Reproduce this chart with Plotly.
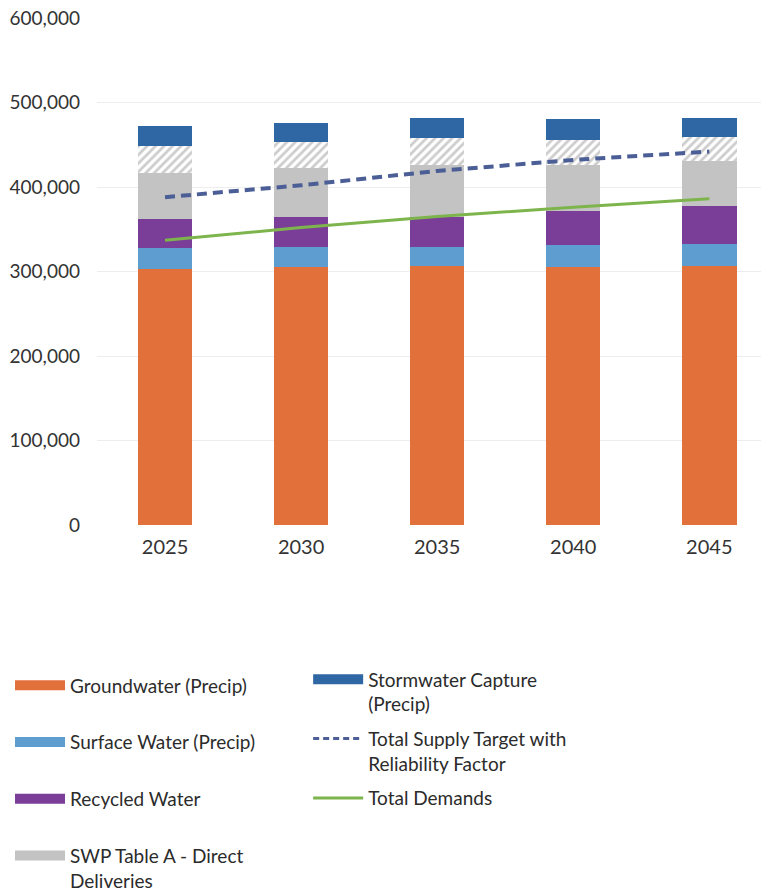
import plotly.graph_objects as go

# Planning years
years = ["2025", "2030", "2035", "2040", "2045"]

# Supply components (AFY), stacked bottom to top
groundwater = [303000, 305000, 307000, 305000, 307000]
surface_water = [25000, 24000, 22000, 26000, 26000]
recycled_water = [34000, 35000, 35000, 41000, 44000]
swp_direct = [54000, 58000, 62000, 54000, 54000]
swp_other = [32000, 31000, 32000, 30000, 28000]
stormwater = [24000, 23000, 24000, 24000, 23000]

# Targets and demands
supply_target = [388000, 402000, 419000, 432000, 442000]
total_demands = [337000, 352000, 365000, 376000, 386000]

y_ticks = [0, 100000, 200000, 300000, 400000, 500000, 600000]

C_ORANGE = "#E2703A"
C_LBLUE = "#5E9DD0"
C_PURPLE = "#7A3E98"
C_GRAY = "#C3C3C3"
C_HATCH = "#9A9A9A"
C_DBLUE = "#2F66A4"
C_DASH = "#4B5E96"
C_GREEN = "#7DB54C"

FONT = "Lato, 'Open Sans', sans-serif"

fig = go.Figure()

stack = [
    ("Groundwater (Precip)", groundwater, C_ORANGE, None),
    ("Surface Water (Precip)", surface_water, C_LBLUE, None),
    ("Recycled Water", recycled_water, C_PURPLE, None),
    ("SWP Table A - Direct<br>Deliveries", swp_direct, C_GRAY, None),
    ("Additional SWP Supply", swp_other, "white", "/"),
    ("Stormwater Capture<br>(Precip)", stormwater, C_DBLUE, None),
]

for name, vals, color, pattern in stack:
    marker = dict(color=color, line=dict(width=0))
    if pattern:
        marker["pattern"] = dict(shape=pattern, fgcolor=C_HATCH, bgcolor="white",
                                 size=6, solidity=0.45)
    fig.add_trace(go.Bar(x=years, y=vals, name=name, marker=marker,
                         showlegend=False))

fig.add_trace(go.Scatter(x=years, y=supply_target, mode="lines",
                         line=dict(color=C_DASH, width=4, dash="10px,6px"),
                         showlegend=False))
fig.add_trace(go.Scatter(x=years, y=total_demands, mode="lines",
                         line=dict(color=C_GREEN, width=3),
                         showlegend=False))

# Legend keys (wide swatches) in two columns
def key(name, color, legend, group, width=10, dash="solid"):
    fig.add_trace(go.Scatter(x=[None], y=[None], mode="lines", name=name,
                             line=dict(color=color, width=width, dash=dash),
                             legend=legend, legendgroup=group))

key("Groundwater (Precip)", C_ORANGE, "legend", "a")
key("Surface Water (Precip)", C_LBLUE, "legend", "b")
key("Recycled Water", C_PURPLE, "legend", "c")
key("SWP Table A - Direct<br>Deliveries", C_GRAY, "legend", "d")
key("Stormwater Capture<br>(Precip)", C_DBLUE, "legend2", "e")
key("Total Supply Target with<br>Reliability Factor", C_DASH, "legend2", "f",
    width=3, dash="6px,4px")
key("Total Demands", C_GREEN, "legend2", "g", width=3)

legend_common = dict(font=dict(family=FONT, size=19, color="#2B2B2B"),
                     bgcolor="rgba(0,0,0,0)", valign="top", itemwidth=50,
                     orientation="v", yanchor="top", xanchor="left")

fig.update_layout(
    width=761, height=896,
    margin=dict(l=97, r=0, t=18, b=371, autoexpand=False),
    paper_bgcolor="white", plot_bgcolor="white",
    barmode="stack", bargap=0.6,
    font=dict(family=FONT, size=19, color="#333333"),
    xaxis=dict(type="category", range=[-0.5, 4.38], showgrid=False,
               showline=False, ticks="", tickfont=dict(size=20),
               ticklabelstandoff=8),
    yaxis=dict(range=[0, 600000], tickvals=y_ticks, tickformat=",d",
               showgrid=True, gridcolor="#EDEDED", gridwidth=1,
               zeroline=False, showline=False, ticks="",
               tickfont=dict(size=19), ticklabelstandoff=16),
    legend=dict(x=-0.131, y=-0.279, tracegroupgap=29, **legend_common),
    legend2=dict(x=0.318, y=-0.267, tracegroupgap=7, **legend_common),
    showlegend=True,
)

fig.write_html("out.html")
